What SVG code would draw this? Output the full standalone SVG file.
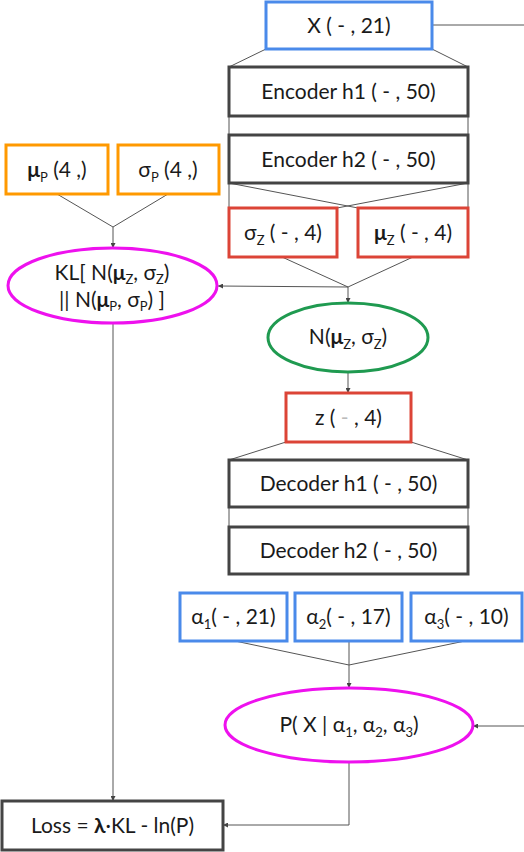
<svg xmlns="http://www.w3.org/2000/svg" width="524" height="852" viewBox="0 0 524 852">
<defs>
<marker id="arr" viewBox="0 0 8 8" refX="8" refY="4" markerWidth="5" markerHeight="5" orient="auto">
<path d="M0,0 L8,4 L0,8 z" fill="#444"/>
</marker>
<style>
.t{font-family:Lato,"Open Sans",sans-serif;font-size:21px;font-weight:400;fill:#1a1a1a;text-anchor:middle}
.s{font-size:13px}
.b{font-weight:bold}
.blue{fill:#fff;stroke:#4a8aea;stroke-width:3}
.dark{fill:#fff;stroke:#444;stroke-width:3}
.red{fill:#fff;stroke:#dc4437;stroke-width:3}
.orange{fill:#fff;stroke:#ff9900;stroke-width:3}
.mag{fill:#fff;stroke:#ee11ee;stroke-width:3}
.green{fill:#fff;stroke:#1f9a50;stroke-width:3}
.c{fill:none;stroke:#555;stroke-width:1}
</style>
</defs>
<g id="connectors">
<line class="c" x1="432" y1="25" x2="524" y2="25"/>
<line class="c" x1="266" y1="49" x2="229" y2="67"/>
<line class="c" x1="432" y1="49" x2="468" y2="67"/>
<line class="c" x1="229" y1="116" x2="229" y2="135"/>
<line class="c" x1="468" y1="116" x2="468" y2="135"/>
<line class="c" x1="229" y1="183" x2="229" y2="208"/>
<line class="c" x1="468" y1="183" x2="468" y2="208"/>
<line class="c" x1="229" y1="183" x2="358" y2="208"/>
<line class="c" x1="468" y1="183" x2="337" y2="208"/>
<polyline class="c" points="282,257 348,287 413,257"/>
<line class="c" x1="348" y1="287" x2="348" y2="303" marker-end="url(#arr)"/>
<line class="c" x1="348" y1="287" x2="218" y2="286" marker-end="url(#arr)"/>
<polyline class="c" points="57,194 113,227 168,194"/>
<line class="c" x1="113" y1="227" x2="113" y2="248" marker-end="url(#arr)"/>
<line class="c" x1="348" y1="372" x2="348" y2="393" marker-end="url(#arr)"/>
<line class="c" x1="286" y1="442" x2="229" y2="460"/>
<line class="c" x1="411" y1="442" x2="468" y2="460"/>
<line class="c" x1="229" y1="507" x2="229" y2="527"/>
<line class="c" x1="468" y1="507" x2="468" y2="527"/>
<polyline class="c" points="235,641 349,665 465,641"/>
<line class="c" x1="349" y1="641" x2="349" y2="665"/>
<line class="c" x1="349" y1="665" x2="349" y2="688" marker-end="url(#arr)"/>
<line class="c" x1="524" y1="726" x2="473" y2="726" marker-end="url(#arr)"/>
<line class="c" x1="113" y1="323" x2="113" y2="801" marker-end="url(#arr)"/>
<polyline class="c" points="349,762 349,825 223,825" marker-end="url(#arr)"/>
</g>
<g id="x">
<rect class="blue" x="266" y="2" width="166" height="47"/>
<text class="t" x="349" y="33">X ( - , 21)</text>
</g>
<g id="enc1">
<rect class="dark" x="229" y="67" width="239" height="49"/>
<text class="t" x="348.5" y="99">Encoder h1 ( - , 50)</text>
</g>
<g id="enc2">
<rect class="dark" x="229" y="135" width="239" height="48"/>
<text class="t" x="348.5" y="167">Encoder h2 ( - , 50)</text>
</g>
<g id="sigmaz">
<rect class="red" x="229" y="208" width="108" height="49"/>
<text class="t" x="283" y="240">σ<tspan class="s" dy="5">Z</tspan><tspan dy="-5"> ( - , 4)</tspan></text>
</g>
<g id="muz">
<rect class="red" x="358" y="208" width="110" height="49"/>
<text class="t" x="413" y="240"><tspan class="b">μ</tspan><tspan class="s" dy="5">Z</tspan><tspan dy="-5"> ( - , 4)</tspan></text>
</g>
<g id="mup">
<rect class="orange" x="6" y="145" width="102" height="49"/>
<text class="t" x="57" y="177"><tspan class="b">μ</tspan><tspan class="s" dy="5">P</tspan><tspan dy="-5"> (4 ,)</tspan></text>
</g>
<g id="sigmap">
<rect class="orange" x="118" y="145" width="101" height="49"/>
<text class="t" x="168" y="177">σ<tspan class="s" dy="5">P</tspan><tspan dy="-5"> (4 ,)</tspan></text>
</g>
<g id="kl">
<ellipse class="mag" cx="112.5" cy="285.5" rx="104.5" ry="37.5"/>
<text class="t" x="112" y="280">KL[ N(<tspan class="b">μ</tspan><tspan class="s" dy="4">Z</tspan><tspan dy="-4">, σ</tspan><tspan class="s" dy="4">Z</tspan><tspan dy="-4">)</tspan></text>
<text class="t" x="112" y="307">|| N(<tspan class="b">μ</tspan><tspan class="s" dy="4">P</tspan><tspan dy="-4">, σ</tspan><tspan class="s" dy="4">P</tspan><tspan dy="-4">) ]</tspan></text>
</g>
<g id="normal">
<ellipse class="green" cx="348" cy="337.5" rx="80" ry="34.5"/>
<text class="t" x="348" y="344">N(<tspan class="b">μ</tspan><tspan class="s" dy="5">Z</tspan><tspan dy="-5">, σ</tspan><tspan class="s" dy="5">Z</tspan><tspan dy="-5">)</tspan></text>
</g>
<g id="z">
<rect class="red" x="286" y="393" width="125" height="49"/>
<text class="t" x="348.5" y="425">z ( <tspan fill="#bbb">-</tspan> , 4)</text>
</g>
<g id="dec1">
<rect class="dark" x="229" y="460" width="239" height="47"/>
<text class="t" x="348.5" y="491">Decoder h1 ( - , 50)</text>
</g>
<g id="dec2">
<rect class="dark" x="229" y="527" width="239" height="47"/>
<text class="t" x="348.5" y="558">Decoder h2 ( - , 50)</text>
</g>
<g id="a1">
<rect class="blue" x="180" y="593" width="107" height="48"/>
<text class="t" x="233.5" y="624">α<tspan class="s" dy="5">1</tspan><tspan dy="-5">( - , 21)</tspan></text>
</g>
<g id="a2">
<rect class="blue" x="295" y="593" width="107" height="48"/>
<text class="t" x="348.5" y="624">α<tspan class="s" dy="5">2</tspan><tspan dy="-5">( - , 17)</tspan></text>
</g>
<g id="a3">
<rect class="blue" x="411" y="593" width="111" height="48"/>
<text class="t" x="466.5" y="624">α<tspan class="s" dy="5">3</tspan><tspan dy="-5">( - , 10)</tspan></text>
</g>
<g id="p">
<ellipse class="mag" cx="349" cy="725" rx="124" ry="37"/>
<text class="t" x="349" y="732">P( X | α<tspan class="s" dy="5">1</tspan><tspan dy="-5">, α</tspan><tspan class="s" dy="5">2</tspan><tspan dy="-5">, α</tspan><tspan class="s" dy="5">3</tspan><tspan dy="-5">)</tspan></text>
</g>
<g id="loss">
<rect class="dark" x="2" y="801" width="221" height="49"/>
<text class="t" x="112.5" y="833">Loss = <tspan class="b">λ</tspan>·KL - ln(P)</text>
</g>
</svg>
